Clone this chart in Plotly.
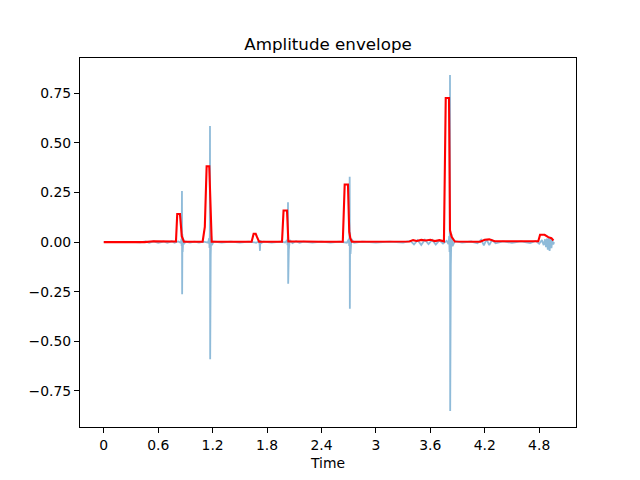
import plotly.graph_objects as go

# Waveform samples (time in s, amplitude)
wave_t = [0.00, 0.10, 0.20, 0.30, 0.40, 0.46, 0.50, 0.55, 0.60, 0.66, 0.70, 0.75, 0.78, 0.82,
          0.850, 0.856, 0.859, 0.862, 0.864, 0.867, 0.870, 0.876, 0.885, 0.90,
          0.95, 1.00, 1.05, 1.10, 1.15, 1.162, 1.166, 1.169, 1.171, 1.173, 1.176, 1.179, 1.184, 1.192, 1.21,
          1.30, 1.40, 1.50, 1.60, 1.68, 1.71, 1.718, 1.722, 1.726, 1.735, 1.76,
          1.85, 1.95, 2.00, 2.022, 2.026, 2.029, 2.031, 2.033, 2.036, 2.040, 2.05, 2.08, 2.12, 2.16, 2.20,
          2.30, 2.40, 2.50, 2.60, 2.68, 2.702, 2.706, 2.709, 2.711, 2.713, 2.716, 2.720, 2.73, 2.76,
          2.85, 3.00, 3.15, 3.30, 3.38, 3.42, 3.46, 3.50, 3.54, 3.58, 3.62, 3.66, 3.70, 3.74, 3.78, 3.80,
          3.808, 3.812, 3.815, 3.817, 3.819, 3.822, 3.826, 3.832, 3.845, 3.87,
          3.95, 4.05, 4.12, 4.16, 4.19, 4.22, 4.25, 4.28, 4.32, 4.40, 4.50, 4.60, 4.70, 4.76, 4.80,
          4.83, 4.85, 4.865, 4.875, 4.885, 4.895, 4.905, 4.915, 4.925, 4.935, 4.945, 4.955, 4.965]
wave_amp = [0.0, 0.001, -0.001, 0.001, -0.001, 0.003, -0.003, 0.004, -0.004, 0.003, -0.004, 0.004, -0.003, 0.003,
            -0.004, 0.015, -0.02, 0.257, -0.263, 0.04, -0.05, 0.015, -0.01, 0.003,
            -0.002, 0.002, -0.002, 0.002, -0.003, 0.02, -0.03, 0.05, 0.585, -0.590, 0.06, -0.07, 0.03, -0.015, 0.003,
            -0.002, 0.002, -0.002, 0.002, -0.003, 0.004, -0.01, -0.044, 0.01, -0.005, 0.002,
            -0.002, 0.002, -0.002, 0.01, -0.015, 0.03, 0.201, -0.210, 0.035, -0.04, 0.01, -0.005, 0.004, -0.004, 0.002,
            -0.002, 0.002, -0.002, 0.002, -0.003, 0.015, -0.02, 0.04, 0.329, -0.336, 0.05, -0.06, 0.015, -0.003,
            0.002, -0.002, 0.002, -0.002, 0.006, -0.012, 0.01, -0.014, 0.012, -0.01, 0.011, -0.013, 0.009, -0.008, 0.006, -0.01,
            0.03, -0.05, 0.08, 0.842, -0.851, 0.1, -0.12, 0.04, -0.02, 0.005,
            -0.003, 0.003, -0.006, 0.012, -0.016, 0.014, -0.015, 0.01, -0.006, 0.004, -0.004, 0.004, -0.005, 0.006, -0.008,
            0.01, -0.015, 0.014, -0.025, 0.018, -0.038, 0.02, -0.044, 0.016, -0.03, 0.012, -0.012, 0.0]

# Amplitude envelope (frame times, max amplitude)
env_t = [0.00, 0.45, 0.55, 0.70, 0.78, 0.796, 0.81, 0.84, 0.86, 0.884,
         0.95, 1.09, 1.114, 1.134, 1.163, 1.19, 1.30, 1.63, 1.652, 1.675, 1.69, 1.712,
         1.80, 1.965, 1.982, 2.02, 2.035, 2.13, 2.16, 2.20, 2.40,
         2.635, 2.656, 2.692, 2.706, 2.718, 2.735, 3.0, 3.37,
         3.41, 3.45, 3.5, 3.55, 3.6, 3.65, 3.7, 3.75, 3.77, 3.806, 3.817, 3.835, 3.87,
         4.15, 4.2, 4.25, 4.31, 4.7, 4.79, 4.81, 4.86, 4.9, 4.935, 4.957]
env_amp = [0.0, 0.0, 0.004, 0.004, 0.003, 0.003, 0.142, 0.142, 0.03, 0.002,
           0.002, 0.002, 0.077, 0.382, 0.382, 0.002, 0.002, 0.002, 0.042, 0.042, 0.025, 0.002,
           0.002, 0.002, 0.159, 0.159, 0.003, 0.003, 0.006, 0.003, 0.002,
           0.002, 0.290, 0.290, 0.052, 0.02, 0.002, 0.002, 0.003,
           0.01, 0.006, 0.011, 0.008, 0.012, 0.005, 0.01, 0.004, 0.726, 0.726, 0.06, 0.027, 0.003,
           0.002, 0.012, 0.014, 0.004, 0.003, 0.004, 0.037, 0.037, 0.025, 0.02, 0.008]

x_ticks = [0, 0.6, 1.2, 1.8, 2.4, 3.0, 3.6, 4.2, 4.8]
x_labels = ["0", "0.6", "1.2", "1.8", "2.4", "3", "3.6", "4.2", "4.8"]
y_ticks = [-0.75, -0.5, -0.25, 0, 0.25, 0.5, 0.75]
y_labels = ["\u22120.75", "\u22120.50", "\u22120.25", "0.00", "0.25", "0.50", "0.75"]

fig = go.Figure()
fig.add_trace(go.Scatter(x=wave_t, y=wave_amp, mode="lines",
                         line=dict(color="rgba(31,119,180,0.5)", width=1.8)))
fig.add_trace(go.Scatter(x=env_t, y=env_amp, mode="lines",
                         line=dict(color="red", width=2.1)))

axis_style = dict(showline=True, mirror=True, linecolor="black", linewidth=1.1,
                  ticks="outside", ticklen=5, tickwidth=1.1, tickcolor="black",
                  showgrid=False, zeroline=False,
                  tickfont=dict(family="DejaVu Sans", size=13.9, color="black"))

# page has an 8px body margin, so margins are trimmed to land the axes box at 80..576 x 58..427
fig.update_layout(
    width=640, height=480,
    margin=dict(l=72, r=72, t=50, b=61),
    paper_bgcolor="white", plot_bgcolor="white",
    showlegend=False,
    title=dict(text="Amplitude envelope", x=0.5, xanchor="center",
               y=1 - 42 / 480, yanchor="bottom", yref="container",
               font=dict(family="DejaVu Sans", size=16.7, color="black")),
    xaxis=dict(range=[-0.262, 5.206], tickvals=x_ticks, ticktext=x_labels,
               title=dict(text="Time", standoff=6,
                          font=dict(family="DejaVu Sans", size=13.9, color="black")),
               **axis_style),
    yaxis=dict(range=[-0.932, 0.928], tickvals=y_ticks, ticktext=y_labels, **axis_style),
)

fig.write_html("out.html")
